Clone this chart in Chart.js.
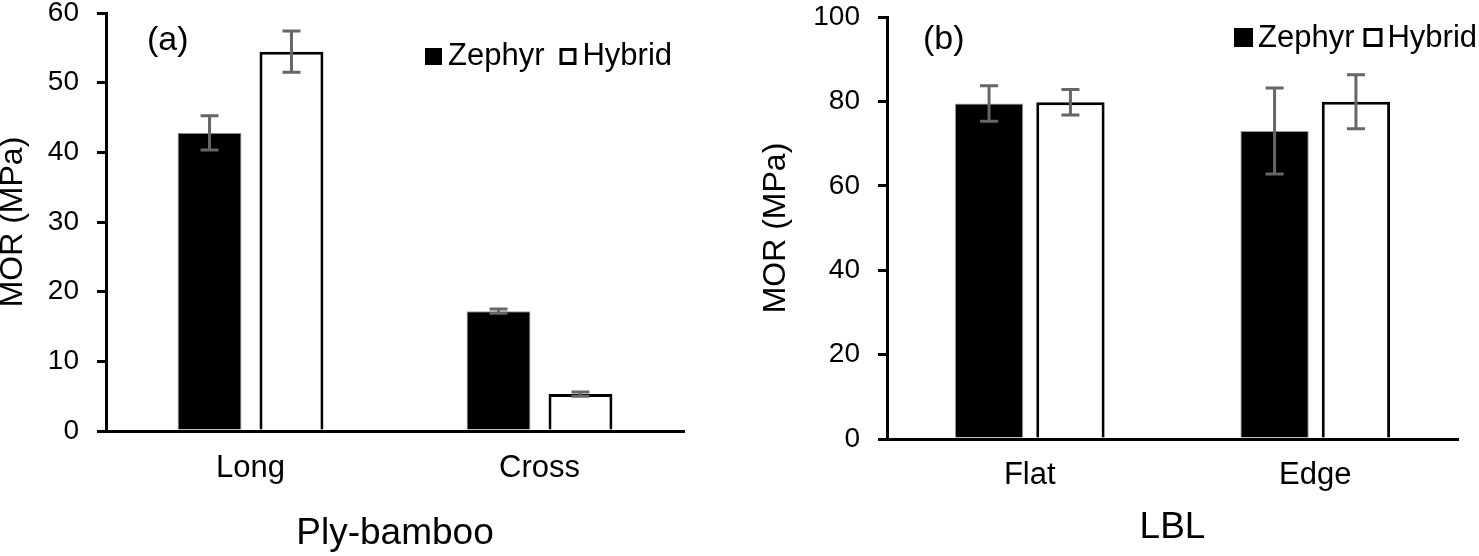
<!DOCTYPE html>
<html>
<head>
<meta charset="utf-8">
<script src="https://cdn.jsdelivr.net/npm/chart.js@4"></script>
<style>
  html, body { margin: 0; padding: 0; background: #fff; }
  #wrap { position: relative; width: 1479px; height: 556px; overflow: hidden; }
  canvas { position: absolute; top: 0; }
  #chartA { left: 0; }
  #chartB { left: 740px; }
</style>
</head>
<body>
<div id="wrap">
  <canvas id="chartA" width="740" height="556"></canvas>
  <canvas id="chartB" width="739" height="556"></canvas>
</div>
<script>
// (a) Ply-bamboo
const catsA = ['Long', 'Cross'];
const zephyrA = [42.8, 17.2];
const zephyrErrA = [2.45, 0.3];
const hybridA = [54.45, 5.3];
const hybridErrA = [2.95, 0.3];

// (b) LBL
const catsB = ['Flat', 'Edge'];
const zephyrB = [79.5, 73.0];
const zephyrErrB = [4.2, 10.2];
const hybridB = [79.8, 79.9];
const hybridErrB = [3.0, 6.4];

Chart.defaults.font.family = '"Liberation Sans", Arial, sans-serif';
Chart.defaults.color = '#000';

// error bars drawn from the bar elements and the y scale
const errorBars = {
    id: 'errorBars',
    afterDatasetsDraw(chart) {
        const ctx = chart.ctx;
        const y = chart.scales.y;
        ctx.save();
        ctx.strokeStyle = '#666666';
        ctx.lineWidth = 3;
        chart.data.datasets.forEach((ds, i) => {
            const meta = chart.getDatasetMeta(i);
            meta.data.forEach((bar, j) => {
                const v = ds.data[j], e = ds.errors[j];
                const top = y.getPixelForValue(v + e);
                const bot = y.getPixelForValue(v - e);
                ctx.beginPath();
                ctx.moveTo(bar.x, top); ctx.lineTo(bar.x, bot);
                ctx.moveTo(bar.x - 9, top); ctx.lineTo(bar.x + 9, top);
                ctx.moveTo(bar.x - 9, bot); ctx.lineTo(bar.x + 9, bot);
                ctx.stroke();
            });
        });
        ctx.restore();
    }
};

// panel letter and the legend inside the plot
const panelText = {
    id: 'panelText',
    afterDraw(chart, args, opts) {
        const ctx = chart.ctx;
        ctx.save();
        ctx.fillStyle = '#000';
        ctx.textBaseline = 'alphabetic';
        ctx.textAlign = 'left';
        ctx.font = '34px "Liberation Sans", Arial, sans-serif';
        ctx.fillText(opts.label, opts.labelX, opts.labelY);

        ctx.font = '31px "Liberation Sans", Arial, sans-serif';
        let x = opts.legendX;
        const base = opts.legendY;
        const s = opts.box;
        chart.data.datasets.forEach(ds => {
            const by = base - s;
            if (ds.backgroundColor === '#000000') {
                ctx.fillStyle = '#000';
                ctx.fillRect(x, by, s, s);
            } else {
                ctx.strokeStyle = '#000';
                ctx.lineWidth = 3;
                ctx.strokeRect(x + 1.5, by + 1.5, s - 3, s - 3);
            }
            x += s + opts.boxGap;
            ctx.fillStyle = '#000';
            ctx.fillText(ds.label, x, base);
            x += ctx.measureText(ds.label).width + opts.itemGap;
        });
        ctx.restore();
    }
};

function makeChart(id, cats, zeph, zephErr, hyb, hybErr, cfg) {
    return new Chart(document.getElementById(id), {
        type: 'bar',
        data: {
            labels: cats,
            datasets: [
                {
                    label: 'Zephyr',
                    data: zeph,
                    errors: zephErr,
                    backgroundColor: '#000000',
                    borderColor: '#9a9a9a',
                    borderWidth: 1,
                    categoryPercentage: cfg.catPct,
                    barPercentage: cfg.barPct
                },
                {
                    label: 'Hybrid',
                    data: hyb,
                    errors: hybErr,
                    backgroundColor: '#ffffff',
                    borderColor: '#000000',
                    borderWidth: 3,
                    categoryPercentage: cfg.catPct,
                    barPercentage: cfg.barPct
                }
            ]
        },
        options: {
            responsive: false,
            animation: false,
            devicePixelRatio: 1,
            layout: { padding: cfg.padding },
            plugins: {
                legend: { display: false },
                tooltip: { enabled: false },
                panelText: cfg.text
            },
            scales: {
                x: {
                    offset: true,
                    grid: { display: false, drawTicks: false },
                    border: { display: true, color: '#000', width: 3 },
                    ticks: { font: { size: 31 }, color: '#000', padding: cfg.xTickPad },
                    title: {
                        display: true,
                        text: cfg.xTitle,
                        font: { size: 37 },
                        color: '#000',
                        padding: { top: 0, bottom: cfg.xTitlePad }
                    },
                    afterFit(s) {
                        s.height = cfg.xHeight;
                        s.paddingLeft = 0;
                        s.paddingRight = 0;
                    }
                },
                y: {
                    min: 0,
                    max: cfg.yMax,
                    grid: { drawOnChartArea: false, drawTicks: true, tickLength: 9, color: '#000', lineWidth: 3 },
                    border: { display: true, color: '#000', width: 3 },
                    ticks: { stepSize: cfg.yStep, font: { size: 28 }, color: '#000', padding: 18 },
                    title: {
                        display: true,
                        text: 'MOR (MPa)',
                        font: { size: 32, lineHeight: 1 },
                        color: '#000',
                        padding: { top: cfg.yTitlePad, bottom: 0 }
                    },
                    afterFit(s) {
                        s.width = cfg.yWidth;
                        s.paddingTop = 0;
                        s.paddingBottom = 0;
                    }
                }
            }
        },
        plugins: [errorBars, panelText]
    });
}

makeChart('chartA', catsA, zephyrA, zephyrErrA, hybridA, hybridErrA, {
    catPct: 0.567, barPct: 0.78,
    padding: { left: 0, right: 56, top: 13, bottom: 0 },
    yMax: 60, yStep: 10, yWidth: 106, yTitlePad: -3,
    xHeight: 125, xTickPad: 19, xTitlePad: 0,
    xTitle: 'Ply-bamboo',
    text: { label: '(a)', labelX: 147, labelY: 50, legendX: 425, legendY: 65, box: 17, boxGap: 6, itemGap: 15 }
});

makeChart('chartB', catsB, zephyrB, zephyrErrB, hybridB, hybridErrB, {
    catPct: 0.57, barPct: 0.84,
    padding: { left: 20, right: 21, top: 17, bottom: 0 },
    yMax: 100, yStep: 20, yWidth: 127, yTitlePad: 0,
    xHeight: 117, xTickPad: 18, xTitlePad: 6,
    xTitle: 'LBL',
    text: { label: '(b)', labelX: 183, labelY: 49, legendX: 494, legendY: 47, box: 19, boxGap: 5, itemGap: 9 }
});
</script>
</body>
</html>
